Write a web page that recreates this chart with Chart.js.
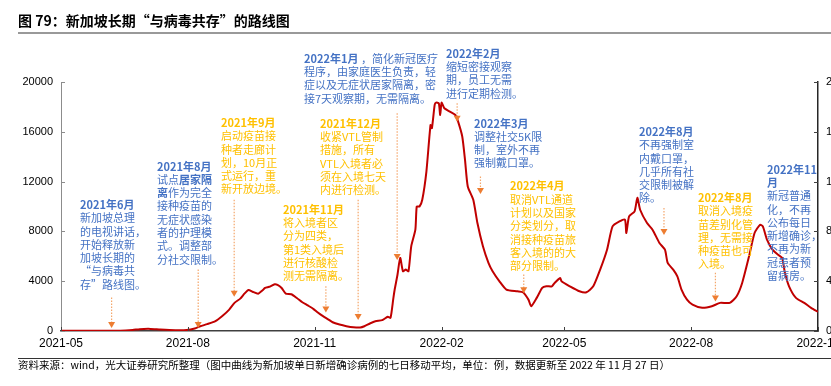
<!DOCTYPE html>
<html lang="zh-CN">
<head>
<meta charset="UTF-8">
<title>图 79：新加坡长期“与病毒共存”的路线图</title>
<script src="https://cdn.jsdelivr.net/npm/chart.js"></script>
<style>
  html, body { margin: 0; padding: 0; background: #fff; }
  body { width: 831px; height: 386px; overflow: hidden; position: relative; font-family: "Noto Sans CJK SC", sans-serif; }
  #wrap { position: absolute; left: 0; top: 0; width: 831px; height: 386px; }
  .title { position: absolute; left: 18px; top: 11px; font-size: 14px; font-weight: bold; line-height: 18px; color: #000; white-space: nowrap; }
  .rule-top { position: absolute; left: 18px; right: 0; top: 32px; height: 2px; background: #999; }
  .rule-bottom { position: absolute; left: 18px; right: 0; top: 357.5px; height: 1px; background: #333; }
  .source { position: absolute; left: 18px; top: 358px; font-size: 10.5px; line-height: 14px; color: #000; white-space: nowrap; }
  .note { position: absolute; font-size: 11px; line-height: 13.3px; white-space: nowrap; }
  .blue { color: #4472C4; }
  .gold { color: #FFC000; }
</style>
</head>
<body>
  <div id="wrap"><canvas id="lineChart"></canvas></div>

  <div class="title">图 79：新加坡长期“与病毒共存”的路线图</div>
  <div class="rule-top"></div>

  <!-- 注释文字 -->
  <div class="note blue" style="left:80px; top:198px;"><b>2021年6月</b><br>新加坡总理<br>的电视讲话，<br>开始释放新<br>加坡长期的<br>“与病毒共<br>存”路线图。</div>
  <div class="note blue" style="left:157px; top:159.5px;"><b>2021年8月</b><br>试点<b>居家隔</b><br><b>离</b>作为完全<br>接种疫苗的<br>无症状感染<br>者的护理模<br>式。调整部<br>分社交限制。</div>
  <div class="note gold" style="left:221px; top:116px;"><b>2021年9月</b><br>启动疫苗接<br>种者走廊计<br>划，10月正<br>式运行，重<br>新开放边境。</div>
  <div class="note gold" style="left:283px; top:202.7px;"><b>2021年11月</b><br>将入境者区<br>分为四类，<br>第1类入境后<br>进行核酸检<br>测无需隔离。</div>
  <div class="note gold" style="left:320px; top:116.7px;"><b>2021年12月</b><br>收紧VTL管制<br>措施，所有<br>VTL入境者必<br>须在入境七天<br>内进行检测。</div>
  <div class="note blue" style="left:304px; top:51.7px;"><b>2022年1月</b> ，简化新冠医疗<br>程序，由家庭医生负责，轻<br>症以及无症状居家隔离，密<br>接7天观察期，无需隔离。</div>
  <div class="note blue" style="left:446px; top:46.7px;"><b>2022年2月</b><br>缩短密接观察<br>期，员工无需<br>进行定期检测。</div>
  <div class="note blue" style="left:474px; top:116.5px;"><b>2022年3月</b><br>调整社交5K限<br>制，室外不再<br>强制戴口罩。</div>
  <div class="note gold" style="left:510px; top:179.4px;"><b>2022年4月</b><br>取消VTL通道<br>计划以及国家<br>分类划分，取<br>消接种疫苗旅<br>客入境的的大<br>部分限制。</div>
  <div class="note blue" style="left:639px; top:125px;"><b>2022年8月</b><br>不再强制室<br>内戴口罩，<br>几乎所有社<br>交限制被解<br>除。</div>
  <div class="note gold" style="left:698px; top:191px;"><b>2022年8月</b><br>取消入境疫<br>苗差别化管<br>理，无需接<br>种疫苗也可<br>入境。</div>
  <div class="note blue" style="left:767px; top:162.7px;"><b>2022年11</b><br><b>月</b><br>新冠普通<br>化，不再<br>公布每日<br>新增确诊，<br>不再为新<br>冠患者预<br>留病房。</div>

  <div class="rule-bottom"></div>
  <div class="source">资料来源：wind，光大证券研究所整理（图中曲线为新加坡单日新增确诊病例的七日移动平均，单位：例，数据更新至 2022 年 11 月 27 日）</div>

<script>
// 天数（自 2021-05-01 起）与七日移动平均新增确诊
const days = [0, 14, 28, 43, 52, 57, 65, 72, 83, 91, 97, 101, 106, 112, 117, 122, 126, 130, 133, 136,
  139, 143, 146, 148, 151, 155, 157, 160, 163, 167, 171, 175, 179, 183, 186, 190, 194, 197, 202, 207,
  212, 217, 220, 224, 228, 233, 237, 239, 241, 242, 244, 246, 248, 250, 252, 254, 257, 258, 260, 262,
  265, 268, 269, 271, 272, 274, 275, 276, 278, 282, 286, 288, 291, 293, 295, 299, 302, 306, 310, 313,
  318, 323, 331, 335, 339, 341, 345, 349, 352, 356, 358, 362, 363, 369, 376, 381, 386, 391, 396, 400,
  405, 409, 410, 412, 416, 418, 420, 425, 429, 434, 438, 440, 444, 447, 450, 454, 458, 465, 472, 478,
  485, 490, 494, 499, 503, 507, 509, 512, 516, 520, 523, 525, 528, 533, 539, 544, 549];
const cases = [30, 25, 15, 20, 80, 150, 170, 120, 70, 80, 200, 380, 550, 790, 1200, 1720, 2280, 2600, 3000, 3300,
  3150, 3000, 3250, 3460, 3550, 3750, 3700, 3450, 3000, 2950, 2650, 2310, 2050, 1780, 1500, 1190, 920, 700, 520, 390,
  300, 280, 380, 600, 780, 870, 1140, 1060, 2600, 3330, 4500, 5870, 4800, 4930, 4800, 6800, 8140, 10000, 10000, 10540,
  12810, 16550, 16290, 18160, 18340, 18290, 17350, 18340, 17890, 17620, 17350, 16820, 15620, 13750, 11610, 10540, 8670, 6800, 5470, 4800,
  3990, 3330, 3190, 3110, 2520, 1990, 2660, 3460, 3590, 3590, 3860, 4260, 3990, 3590, 3190, 3110, 3590, 4930, 6530, 8400,
  8800, 8940, 7870, 9210, 9610, 10700, 9740, 8670, 8140, 7070, 6530, 5470, 4930, 4390, 3330, 2520, 2120, 1860, 1990, 2260,
  2260, 2790, 3860, 6000, 7870, 8540, 8400, 7340, 6530, 6130, 5870, 4670, 3590, 2660, 2260, 1860, 1540];

const tickDays = [0, 92, 184, 276, 365, 457, 549];
const tickLabels = ['2021-05', '2021-08', '2021-11', '2022-02', '2022-05', '2022-08', '2022-11'];

// 箭头：日期（天）、起点值、终点值
const arrows = [
  { day: 36.7, from: 2690, to: 250 },
  { day: 99.5, from: 4930, to: 250 },
  { day: 125.6, from: 10540, to: 2760 },
  { day: 192.1, from: 3590, to: 1490 },
  { day: 215.5, from: 10540, to: 880 },
  { day: 243.8, from: 17490, to: 5700 },
  { day: 287.3, from: 18290, to: 16800 },
  { day: 304.2, from: 12410, to: 11000 },
  { day: 335.6, from: 4530, to: 3040 },
  { day: 437.3, from: 9880, to: 7720 },
  { day: 474.6, from: 4670, to: 2370 }
];

const tickMarks = {
  id: 'tickMarks',
  afterDraw(chart) {
    const { ctx, chartArea } = chart;
    const x = chart.scales.x, yl = chart.scales.y, yr = chart.scales.y2;
    ctx.save();
    ctx.lineWidth = 1;
    ctx.strokeStyle = '#404040';
    ctx.beginPath();
    x.ticks.forEach(t => {
      const px = Math.round(x.getPixelForValue(t.value)) + 0.5;
      ctx.moveTo(px, chartArea.bottom);
      ctx.lineTo(px, chartArea.bottom - 4);
    });
    yr.ticks.forEach(t => {
      const py = Math.round(yr.getPixelForValue(t.value)) + 0.5;
      ctx.moveTo(chartArea.right, py);
      ctx.lineTo(chartArea.right - 4, py);
    });
    ctx.stroke();
    ctx.strokeStyle = '#8c8c8c';
    ctx.beginPath();
    yl.ticks.forEach(t => {
      const py = Math.round(yl.getPixelForValue(t.value)) + 0.5;
      ctx.moveTo(chartArea.left, py);
      ctx.lineTo(chartArea.left + 4, py);
    });
    ctx.stroke();
    ctx.restore();
  }
};

const arrowMarks = {
  id: 'arrowMarks',
  afterDatasetsDraw(chart) {
    const { ctx } = chart;
    const x = chart.scales.x, y = chart.scales.y;
    ctx.save();
    arrows.forEach(a => {
      const px = x.getPixelForValue(a.day);
      const top = y.getPixelForValue(a.from);
      const tip = y.getPixelForValue(a.to);
      ctx.strokeStyle = '#F4A66A';
      ctx.lineWidth = 1.2;
      ctx.setLineDash([1.5, 1.5]);
      ctx.beginPath();
      ctx.moveTo(px, top);
      ctx.lineTo(px, tip - 5);
      ctx.stroke();
      ctx.setLineDash([]);
      ctx.fillStyle = '#ED7D31';
      ctx.beginPath();
      ctx.moveTo(px - 3.5, tip - 6);
      ctx.lineTo(px + 3.5, tip - 6);
      ctx.lineTo(px, tip);
      ctx.closePath();
      ctx.fill();
    });
    ctx.restore();
  }
};

new Chart(document.getElementById('lineChart'), {
  type: 'line',
  data: {
    datasets: [{
      label: '新增确诊（七日移动平均）',
      data: days.map((d, i) => ({ x: d, y: cases[i] })),
      borderColor: '#C00000',
      borderWidth: 2,
      pointRadius: 0,
      tension: 0.2,
      fill: false
    }]
  },
  options: {
    responsive: true,
    maintainAspectRatio: false,
    animation: false,
    layout: { padding: { left: 0, right: 0, top: 82, bottom: 35 } },
    plugins: { legend: { display: false }, tooltip: { enabled: false } },
    scales: {
      x: {
        type: 'linear',
        min: 0,
        max: 549,
        grid: { display: false, drawTicks: false },
        border: { display: true, color: '#404040', width: 1.5 },
        afterBuildTicks(scale) { scale.ticks = tickDays.map(v => ({ value: v })); },
        afterFit(scale) { scale.height = 20; scale.paddingLeft = 0; scale.paddingRight = 0; },
        ticks: {
          autoSkip: false,
          maxRotation: 0,
          padding: 5,
          color: '#000',
          font: { family: 'Liberation Sans', size: 12 },
          callback: v => tickLabels[tickDays.indexOf(v)]
        }
      },
      y: {
        position: 'left',
        min: 0,
        max: 20000,
        grid: { display: false, drawTicks: false },
        border: { display: true, color: '#8c8c8c', width: 1 },
        afterFit(scale) { scale.width = 61; },
        ticks: { stepSize: 4000, padding: 8, color: '#000', font: { family: 'Liberation Sans', size: 11 }, callback: v => String(v) }
      },
      y2: {
        position: 'right',
        min: 0,
        max: 20000,
        grid: { display: false, drawTicks: false },
        border: { display: true, color: '#262626', width: 1.5 },
        afterFit(scale) { scale.width = 13; },
        ticks: { stepSize: 4000, padding: 8, color: '#000', font: { family: 'Liberation Sans', size: 11 }, callback: v => String(v) }
      }
    }
  },
  plugins: [tickMarks, arrowMarks]
});
</script>
</body>
</html>
